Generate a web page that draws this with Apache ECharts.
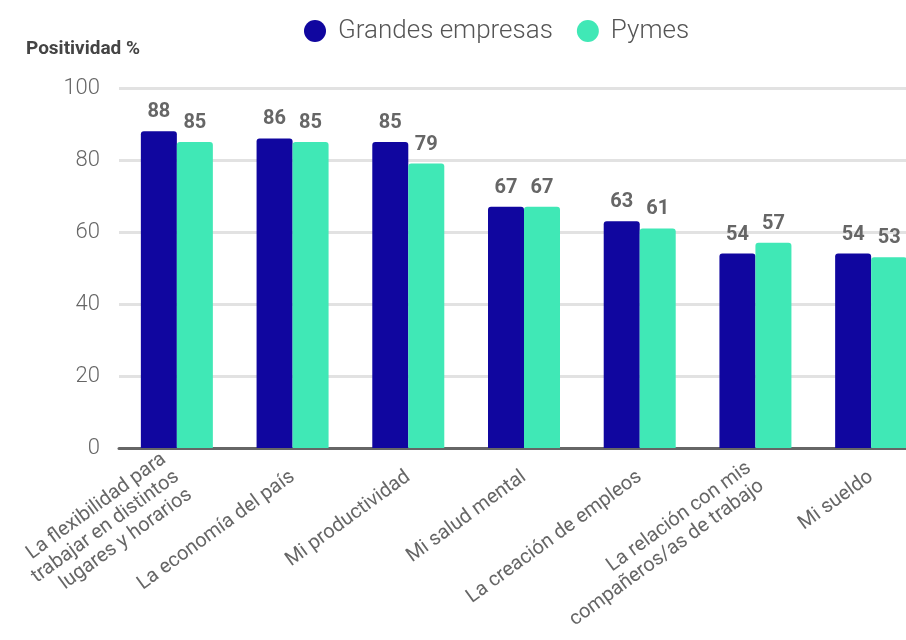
<!DOCTYPE html>
<html>
<head>
<meta charset="utf-8">
<script src="https://cdn.jsdelivr.net/npm/echarts@6/dist/echarts.min.js"></script>
<style>html,body{margin:0;padding:0;background:#fff}#c{width:906px;height:640px}</style>
</head>
<body>
<div id="c"></div>
<script>
const categories = [
  'La flexibilidad para\ntrabajar en distintos\nlugares y horarios',
  'La economía del país',
  'Mi productividad',
  'Mi salud mental',
  'La creación de empleos',
  'La relación con mis\ncompañeros/as de trabajo',
  'Mi sueldo'
];
const grandes = [88, 86, 85, 67, 63, 54, 54];
const pymes = [85, 85, 79, 67, 61, 57, 53];
const yTicks = [0, 20, 40, 60, 80, 100];

const chart = echarts.init(document.getElementById('c'));
const labelStyle = {
  show: true, position: 'top', distance: 9,
  fontFamily: 'Roboto', fontWeight: 'bold', fontSize: 20, color: '#666'
};
chart.setOption({
  animation: false,
  textStyle: { fontFamily: 'Roboto' },
  title: {
    text: 'Positividad %', left: 21, top: 35,
    textStyle: { fontFamily: 'Roboto', fontWeight: 'bold', fontSize: 19, color: '#444' }
  },
  legend: {
    left: 299, top: 13, icon: 'circle', itemWidth: 22, itemHeight: 22, itemGap: 24,
    textStyle: { fontFamily: 'Roboto', fontSize: 26, color: '#555', fontWeight: 300, padding: [0, 0, 0, 7] }
  },
  grid: { left: 119, width: 810, top: 88, height: 360, containLabel: false, outerBoundsMode: 'none' },
  xAxis: {
    type: 'category', data: categories,
    axisLine: { lineStyle: { color: '#666', width: 3 } },
    axisTick: { show: false },
    axisLabel: { rotate: 36, margin: 27, fontSize: 20, color: '#666', lineHeight: 22, interval: 0 }
  },
  yAxis: {
    type: 'value', min: yTicks[0], max: yTicks[yTicks.length - 1], interval: 20,
    axisLine: { show: false }, axisTick: { show: false },
    axisLabel: { margin: 19, fontSize: 22, color: '#666', fontWeight: 300 },
    splitLine: { lineStyle: { color: '#e2e2e2', width: 3 } }
  },
  series: [
    { name: 'Grandes empresas', type: 'bar', data: grandes, barWidth: 36, barGap: '0%',
      itemStyle: { color: '#10069f', borderRadius: [3, 3, 0, 0] }, label: labelStyle },
    { name: 'Pymes', type: 'bar', data: pymes, barWidth: 36,
      itemStyle: { color: '#40e8b6', borderRadius: [3, 3, 0, 0] }, label: labelStyle }
  ]
});
</script>
</body>
</html>
